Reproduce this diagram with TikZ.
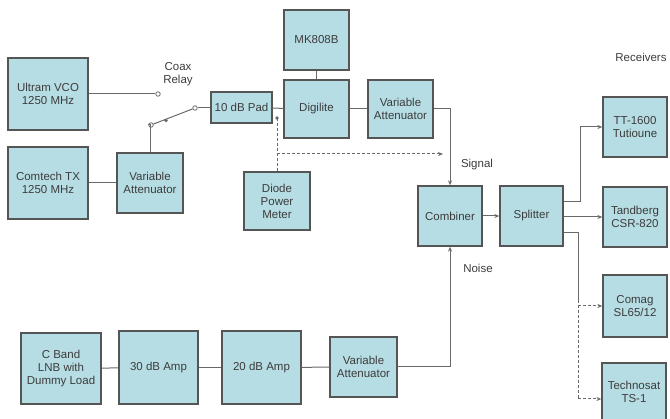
\documentclass[tikz,border=0pt]{standalone}
\usepackage{fontspec}
\setmainfont{Liberation Sans}
\usetikzlibrary{arrows.meta}
\definecolor{boxfill}{RGB}{183,221,228}
\definecolor{boxline}{RGB}{85,85,85}
\definecolor{wirecol}{RGB}{105,105,105}
\definecolor{txtcol}{RGB}{60,60,60}
\tikzset{
  unit/.style 2 args={draw=boxline, line width=1.3pt, fill=boxfill, align=center,
    text=txtcol, inner sep=1pt, minimum width=#1, minimum height=#2},
  wire/.style={draw=wirecol, line width=1pt},
  feed/.style={wire, -{Stealth[length=5pt,width=4pt]}},
  probe/.style={feed, densely dashed},
  contact/.style={circle, draw=wirecol, fill=white, line width=0.8pt, inner sep=1.6pt},
  tag/.style={text=txtcol, align=center}
}
\begin{document}
\begin{tikzpicture}[x=1pt, y=-1pt, font=\fontsize{11.5}{13}\selectfont]
  \useasboundingbox (0,0) rectangle (670,419);
  % sources and relay
  \node[unit={80pt}{72pt}] (vco) at (48,94) {Ultram VCO\\1250 MHz};
  \node[unit={80pt}{72pt}] (tx) at (48,183) {Comtech TX\\1250 MHz};
  \node[unit={66pt}{60pt}] (attL) at (150,183) {Variable\\Attenuator};
  \node[contact] (nc) at (158,94) {};
  \node[contact] (no) at (151,125) {};
  \node[contact] (com) at (195,108) {};
  \node[tag] (relay) at (178,74) {Coax\\Relay};
  \node[unit={61pt}{31pt}] (pad) at (241.5,107.5) {10 dB Pad};
  \node[unit={65pt}{60pt}] (mk) at (316.5,40) {MK808B};
  \node[unit={65pt}{58pt}] (dig) at (316.5,109) {Digilite};
  \node[unit={65pt}{58pt}] (attU) at (400.5,109) {Variable\\Attenuator};
  \node[unit={66pt}{58pt}] (diode) at (277,201) {Diode\\Power\\Meter};
  \draw[wire] (vco.east) -- (nc);
  \draw[wire] (tx.east) -- (attL.west);
  \draw[wire] (attL.north) |- (no);
  \draw[wire] (no) -- (com);
  \fill[wirecol] (166,120.5) circle (1.8pt);
  \draw[wire] (com) -- (pad.west |- com);
  \draw[wire] (pad) -- (dig);
  \draw[wire] (mk) -- (dig);
  \draw[wire] (dig) -- (attU);
  % combiner and splitter
  \node[unit={64pt}{60pt}] (comb) at (450,216) {Combiner};
  \node[unit={63pt}{60pt}] (split) at (531.5,216) {Splitter};
  \node[tag] (sig) at (477,165) {Signal};
  \node[tag] (noise) at (478,268) {Noise};
  \coordinate (tap) at (277,118);
  \coordinate (sense) at (443,154);
  \fill[wirecol] (tap) circle (1.8pt);
  \draw[wire, densely dashed] (tap) -- (tap |- diode.north);
  \draw[probe] (tap |- sense) -- (sense);
  \draw[feed] (attU.east) -| (comb.north);
  \draw[feed] (comb) -- (split);
  % noise chain
  \node[unit={80pt}{71pt}] (lnb) at (61,368.5) {C Band\\LNB with\\Dummy Load};
  \node[unit={79pt}{73pt}] (amp30) at (158.5,367.5) {30 dB Amp};
  \node[unit={79pt}{73pt}] (amp20) at (261.5,367.5) {20 dB Amp};
  \node[unit={67pt}{60pt}] (attB) at (363.5,367) {Variable\\Attenuator};
  \draw[wire] (lnb) -- (amp30);
  \draw[wire] (amp30) -- (amp20);
  \draw[wire] (amp20) -- (attB);
  \draw[feed] (attB.east) -| (comb.south);
  % receivers
  \node[tag] (rx) at (641,57) {Receivers};
  \node[unit={64pt}{60pt}] (tt) at (635,127) {TT-1600\\Tutioune};
  \node[unit={64pt}{60pt}] (tand) at (635,217) {Tandberg\\CSR-820};
  \node[unit={64pt}{62pt}] (comag) at (635,306) {Comag\\SL65/12};
  \node[unit={64pt}{58pt}] (techno) at (634,392) {Technosat\\TS-1};
  \coordinate (drop) at (578,300);
  \coordinate (last) at (578,399);
  \draw[feed] ([yshift=14pt]split.east) -- ++(17,0) |- (tt.west);
  \draw[feed] (split.east |- tand.west) -- (tand.west);
  \draw[wire] ([yshift=-17pt]split.east) -| (drop);
  \draw[wire, densely dashed] (drop) -- (last);
  \draw[probe] (drop |- comag.west) -- (comag.west);
  \draw[probe] (last) -- (techno.west |- last);
\end{tikzpicture}
\end{document}
